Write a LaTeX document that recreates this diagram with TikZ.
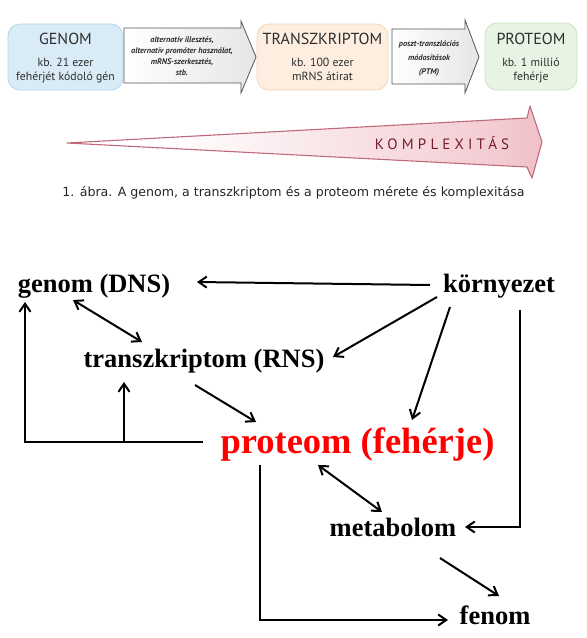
\documentclass[tikz,border=0pt]{standalone}
\usepackage{fontspec}
\setmainfont{Liberation Serif}
\newfontfamily\topsans{PT Sans}
\newfontfamily\capfont{DejaVu Sans}
\usetikzlibrary{arrows.meta}
\definecolor{genomfill}{HTML}{D8EBF7}
\definecolor{genomdraw}{HTML}{B4D6EA}
\definecolor{transzfill}{HTML}{FDEEE0}
\definecolor{transzdraw}{HTML}{F1D6BC}
\definecolor{protfill}{HTML}{E7F4E4}
\definecolor{protdraw}{HTML}{C9E3C3}
\definecolor{textgray}{HTML}{2E2E2E}
\definecolor{arrowdraw}{HTML}{555555}
\definecolor{wedgedraw}{HTML}{C0697A}
\definecolor{wpink}{HTML}{DC6E80}
\definecolor{komplred}{HTML}{761B2A}
\pgfdeclarehorizontalshading{komplex}{100bp}{color(0bp)=(white); color(35bp)=(white); color(70bp)=(wpink!35); color(90bp)=(wpink!70); color(100bp)=(wpink!95)}
\begin{document}
\begin{tikzpicture}[x=1pt,y=-1pt,
  topbox/.style={rectangle, rounded corners=12pt, line width=0.8pt, inner sep=0pt},
  toptitle/.style={anchor=base, inner sep=0pt, text=textgray, font=\topsans\fontsize{16}{18}\selectfont},
  topbody/.style={anchor=base, inner sep=0pt, text=textgray, font=\topsans\fontsize{11.8}{13}\selectfont},
  arrtext/.style={anchor=base, inner sep=0pt, text=textgray, font=\topsans\itshape\bfseries\fontsize{8.2}{9}\selectfont},
  flowarrow/.style={draw=arrowdraw, line width=0.8pt, left color=white, right color=gray!20},
  lbl/.style={anchor=base, inner sep=0pt, font=\bfseries\fontsize{26.5}{30}\selectfont},
  conn/.style={line width=2pt, -{Straight Barb[length=8pt,width=11pt]}},
  conn2/.style={line width=2pt, {Straight Barb[length=8pt,width=11pt]}-{Straight Barb[length=8pt,width=11pt]}},
  plain/.style={line width=2pt}]
\useasboundingbox (0,0) rectangle (587,638);
\fill[white] (0,0) rectangle (587,638);

% ---- top: boxes ----
\node[topbox, fill=genomfill, draw=genomdraw, minimum width=115pt, minimum height=66pt] (genombox) at (65.5,57) {};
\node[topbox, fill=transzfill, draw=transzdraw, minimum width=131pt, minimum height=66pt] (transzbox) at (322.5,57) {};
\node[topbox, fill=protfill, draw=protdraw, minimum width=92pt, minimum height=67pt] (protbox) at (531,56.5) {};

\node[toptitle] (genomtitle) at (65.5,44) {GENOM};
\node[topbody] (genomline1) at (65.5,66) {kb. 21 ezer};
\node[topbody] (genomline2) at (65.5,80) {fehérjét kódoló gén};

\node[toptitle] (transztitle) at (322.5,44) {TRANSZKRIPTOM};
\node[topbody] (transzline1) at (322.5,66) {kb. 100 ezer};
\node[topbody] (transzline2) at (322.5,80) {mRNS átirat};

\node[toptitle] (prottitle) at (531,44) {PROTEOM};
\node[topbody] (protline1) at (531,66) {kb. 1 millió};
\node[topbody] (protline2) at (531,80) {fehérje};

% ---- top: process arrows ----
\path[flowarrow] (124,28) -- (241,28) -- (241,21) -- (256,57) -- (241,93) -- (241,83) -- (124,83) -- cycle;
\node[arrtext] (a1l1) at (182,42) {alternatív illesztés,};
\node[arrtext] (a1l2) at (182,53) {alternatív promóter használat,};
\node[arrtext] (a1l3) at (182,64) {mRNS-szerkesztés,};
\node[arrtext] (a1l4) at (182,75) {stb.};

\path[flowarrow] (392,29) -- (465,29) -- (465,20) -- (479,57) -- (465,93) -- (465,84) -- (392,84) -- cycle;
\node[arrtext] (a2l1) at (429,46) {poszt-transzlációs};
\node[arrtext] (a2l2) at (429,60) {módosítások};
\node[arrtext] (a2l3) at (429,74) {(PTM)};

% ---- complexity wedge ----
\path[draw=wedgedraw, line width=1.1pt, line join=round, shading=komplex]
  (67,143) -- (527,118) -- (530,106) -- (542,142) -- (532,178) -- (527,167) -- cycle;
\node[anchor=base, inner sep=0pt, text=komplred,
  font=\topsans\addfontfeature{LetterSpace=28}\fontsize{15}{17}\selectfont] (kompl) at (442,149) {KOMPLEXITÁS};

\node[anchor=base, inner sep=0pt, text=black!85,
  font=\capfont\fontsize{12.6}{14}\selectfont] (caption) at (293.5,196) {1. ábra. A genom, a transzkriptom és a proteom mérete és komplexitása};

% ---- bottom: network ----
\node[lbl] (genom) at (94,292) {genom (DNS)};
\node[lbl] (korny) at (499,292) {környezet};
\node[lbl] (transz) at (204,367) {transzkriptom (RNS)};
\node[lbl, text=red, font=\bfseries\fontsize{36.5}{40}\selectfont] (proteom) at (357.5,453) {proteom (fehérje)};
\node[lbl] (metab) at (393,536) {metabolom};
\node[lbl] (fenom) at (495,624) {fenom};

% környezet -> genom
\draw[conn] ([shift={(-69,-7)}]korny.base) -- ([shift={(103,-10)}]genom.base);
% genom <-> transzkriptom
\draw[conn2] ([shift={(-21,8)}]genom.base) -- ([shift={(-62,-25)}]transz.base);
% környezet -> transzkriptom
\draw[conn] ([shift={(-62,5)}]korny.base) -- ([shift={(129,-10)}]transz.base);
% környezet -> proteom
\draw[conn] ([shift={(-49,15)}]korny.base) -- ([shift={(54.5,-33)}]proteom.base);
% környezet -> metabolom
\draw[conn] ([shift={(21,18)}]korny.base) |- ([shift={(72,-9)}]metab.base);
% transzkriptom -> proteom
\draw[conn] ([shift={(-9,18)}]transz.base) -- ([shift={(-101.5,-31)}]proteom.base);
% proteom -> genom
\draw[conn] ([shift={(-154.5,-11)}]proteom.base) -| ([shift={(-69,10)}]genom.base);
% proteom -> transzkriptom (branch)
\draw[conn] ([shift={(-80,75)}]transz.base) -- ([shift={(-80,15)}]transz.base);
% proteom <-> metabolom
\draw[conn2] ([shift={(-39.5,12)}]proteom.base) -- ([shift={(-11,-24)}]metab.base);
% proteom -> fenom
\draw[conn] ([shift={(-97.5,12)}]proteom.base) |- ([shift={(-47,-4)}]fenom.base);
% metabolom -> fenom
\draw[conn] ([shift={(47,22)}]metab.base) -- ([shift={(4,-28)}]fenom.base);
\end{tikzpicture}
\end{document}
